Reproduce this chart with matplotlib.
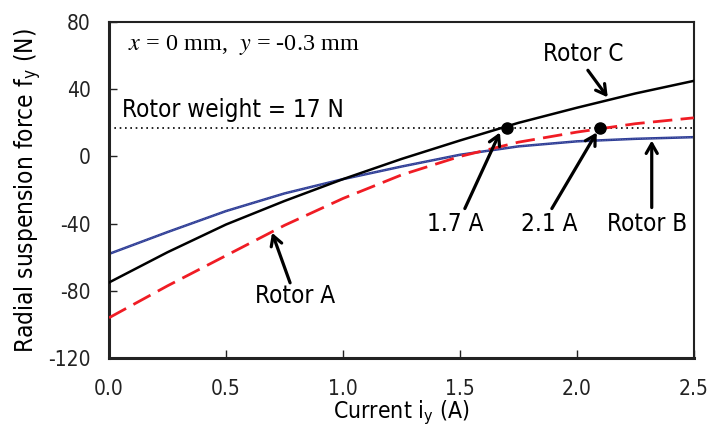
import numpy as np
import matplotlib
matplotlib.use('Agg')
import matplotlib.pyplot as plt

plt.rcParams['font.family'] = ['DejaVu Sans']
plt.rcParams['font.stretch'] = 'condensed'
plt.rcParams['mathtext.fontset'] = 'stix'

# %% DATA
current = [0.0, 0.25, 0.5, 0.75, 1.0, 1.25, 1.5, 1.75, 2.0, 2.25, 2.5]
rotor_a = [-96, -77, -59, -41, -25, -11, 0, 8.5, 14.5, 19.5, 23]
rotor_b = [-58, -45, -32.5, -22, -13.5, -6, 1, 6, 9, 10.5, 11.5]
rotor_c = [-75, -57, -40.5, -26.5, -13.5, -1.5, 9.5, 20, 29, 37.5, 45]
rotor_weight = 17
crossing_currents = [1.7, 2.1]

# %% PLOT
fig = plt.figure(figsize=(7.08, 4.41), dpi=100)
ax = fig.add_axes([0.154, 0.188, 0.826, 0.762])

ax.plot(current, rotor_b, color='#2e3d96', lw=1.8, zorder=2)
ax.plot(current, rotor_b, color='white', lw=0.4, ls=(0, (1, 2)), alpha=0.5, zorder=2)
ax.plot(current, rotor_a, color='#f01c24', lw=2.0, ls=(0, (7, 3)), zorder=3)
ax.plot(current, rotor_c, color='black', lw=1.8, zorder=4)
ax.axhline(rotor_weight, color='black', lw=1.2, ls=(0, (1, 2.2)), zorder=1)
ax.plot(crossing_currents, [rotor_weight] * 2, 'o', color='black', ms=8, zorder=5)

# labels and arrows (tail -> tip, data coords)
fs = 17.5
labels = [('Rotor C', 2.026, 60.9), ('1.7 A', 1.479, -40), ('2.1 A', 1.880, -40),
          ('Rotor B', 2.299, -40), ('Rotor A', 0.795, -83)]
arrows = [((2.047, 51.3), (2.132, 35.2)), ((1.521, -31), (1.671, 14.3)),
          ((1.893, -31), (2.085, 14.3)), ((2.32, -30.4), (2.32, 9.5)),
          ((0.774, -75.2), (0.697, -45.4))]
for txt, x, y in labels:
    ax.text(x, y, txt, fontsize=fs, ha='center', va='center')
for tail, tip in arrows:
    ax.annotate('', xy=tip, xytext=tail,
                arrowprops=dict(arrowstyle='->,head_length=0.7,head_width=0.4',
                                color='black', lw=2.3, shrinkA=0, shrinkB=0))
ax.text(0.056, 27.5, 'Rotor weight = 17 N', fontsize=fs, va='center')
ax.text(0.081, 66.3, r'$x$ = 0 mm,  $y$ = -0.3 mm', fontsize=17.5,
        family='Liberation Serif', va='center')

ax.set_xlim(0, 2.5)
ax.set_ylim(-120, 80)
ax.set_xticks(np.arange(0, 2.51, 0.5))
ax.set_yticks(np.arange(-120, 81, 40))
ax.set_yticklabels([str(v) for v in range(-120, 81, 40)])
ax.xaxis.set_major_formatter(matplotlib.ticker.FormatStrFormatter('%.1f'))
ax.tick_params(direction='in', length=6, width=1, labelsize=15, colors='#222222')
ax.tick_params(axis='x', pad=15)
ax.tick_params(axis='y', pad=13)
for s in ax.spines.values():
    s.set_linewidth(1.5)
    s.set_color('#222222')
ax.spines['left'].set_linewidth(2.2)
ax.spines['bottom'].set_linewidth(2.2)

ax.set_xlabel(r'Current i$_\mathregular{y}$ (A)', fontsize=16.5, labelpad=0)
ax.set_ylabel(r'Radial suspension force f$_\mathregular{y}$ (N)', fontsize=17.5, labelpad=4)

fig.savefig('out.png', dpi=100)
